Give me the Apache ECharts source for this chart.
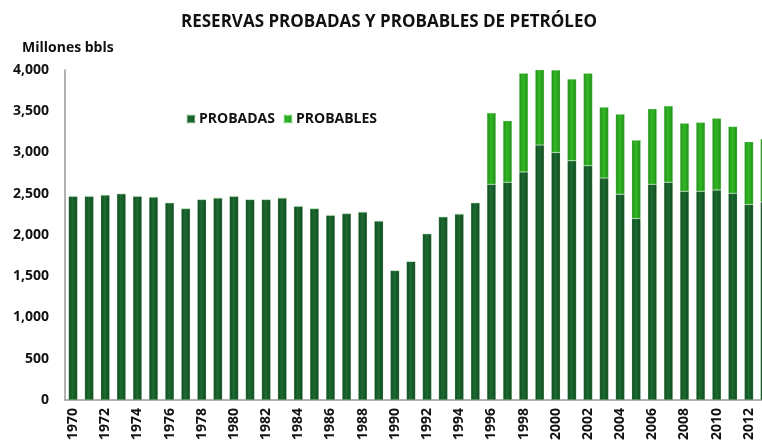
<!DOCTYPE html>
<html>
<head>
<meta charset="utf-8">
<script src="https://cdn.jsdelivr.net/npm/echarts@6/dist/echarts.min.js"></script>
<style>
  html, body { margin: 0; padding: 0; background: #fff; }
  #chart { width: 762px; height: 444px; }
</style>
</head>
<body>
<div id="chart"></div>
<script>
  // años 1970 - 2013 (el último queda cortado en el borde)
  var years = [];
  for (var y = 1970; y <= 2013; y++) years.push(String(y));

  // reservas probadas (millones bbls)
  var probadas = [
    2470, 2470, 2485, 2500, 2470, 2460, 2390, 2320, 2430, 2450,
    2470, 2430, 2430, 2450, 2350, 2320, 2240, 2260, 2280, 2170,
    1570, 1680, 2015, 2220, 2255, 2390, 2615, 2640, 2765, 3090,
    3000, 2900, 2840, 2690, 2495, 2200, 2615, 2640, 2530, 2530,
    2545, 2505, 2370, 2400
  ];
  // reservas probables (solo desde 1996)
  var probables = [
    0, 0, 0, 0, 0, 0, 0, 0, 0, 0,
    0, 0, 0, 0, 0, 0, 0, 0, 0, 0,
    0, 0, 0, 0, 0, 0, 865, 745, 1195, 925,
    1000, 990, 1120, 860, 970, 950, 915, 925, 825, 835,
    870, 810, 760, 765
  ];
  var yTicks = { min: 0, max: 4000, step: 500 };

  var fontFam = '"Open Sans", Lato, sans-serif';

  function barGrad(edge, mid) {
    return new echarts.graphic.LinearGradient(0, 0, 1, 0, [
      { offset: 0, color: edge },
      { offset: 0.45, color: mid },
      { offset: 1, color: edge }
    ]);
  }

  var myChart = echarts.init(document.getElementById('chart'), null, { renderer: 'canvas' });
  myChart.setOption({
    animation: false,
    title: [{
      text: 'RESERVAS PROBADAS Y PROBABLES DE PETRÓLEO',
      left: 384, top: 9, textAlign: 'center',
      textStyle: { fontFamily: fontFam, fontSize: 17, fontWeight: 'bold', color: '#111' }
    }, {
      text: 'Millones bbls',
      left: 17, top: 36,
      textStyle: { fontFamily: fontFam, fontSize: 14, fontWeight: 'bold', color: '#111' }
    }],
    legend: {
      left: 181, top: 107,
      itemWidth: 8, itemHeight: 8, itemGap: 8,
      icon: 'rect',
      textStyle: { fontFamily: fontFam, fontSize: 14, fontWeight: 'bold', color: '#111', padding: [0, 0, 0, -1] },
      data: ['PROBADAS', 'PROBABLES']
    },
    grid: { left: 65, top: 70, width: 708, height: 330, outerBoundsMode: 'none', containLabel: false },
    xAxis: {
      type: 'category',
      data: years,
      axisLine: { lineStyle: { color: '#999', width: 1.5 } },
      axisTick: { show: false },
      axisLabel: {
        interval: 1, rotate: 90, margin: 8,
        fontFamily: fontFam, fontSize: 14, fontWeight: 'bold', color: '#111'
      }
    },
    yAxis: {
      type: 'value',
      min: yTicks.min, max: yTicks.max, interval: yTicks.step,
      axisLine: { show: true, lineStyle: { color: '#999', width: 1.5 } },
      axisTick: { show: false },
      splitLine: { show: false },
      axisLabel: {
        margin: 16,
        fontFamily: fontFam, fontSize: 14, fontWeight: 'bold', color: '#111',
        formatter: function (v) { return v.toLocaleString('en-US'); }
      }
    },
    series: [{
      name: 'PROBADAS',
      type: 'bar',
      stack: 'total',
      barWidth: 9,
      data: probadas,
      itemStyle: { color: barGrad('#0f4a1f', '#1d6b31'), borderColor: 'rgba(200,230,200,0.5)', borderWidth: 0.5 }
    }, {
      name: 'PROBABLES',
      type: 'bar',
      stack: 'total',
      barWidth: 9,
      data: probables,
      itemStyle: { color: barGrad('#1f8f17', '#33b825'), borderColor: 'rgba(200,240,200,0.5)', borderWidth: 0.5 }
    }],
    color: ['#1a5e2a', '#2aa81f']
  });
</script>
</body>
</html>
